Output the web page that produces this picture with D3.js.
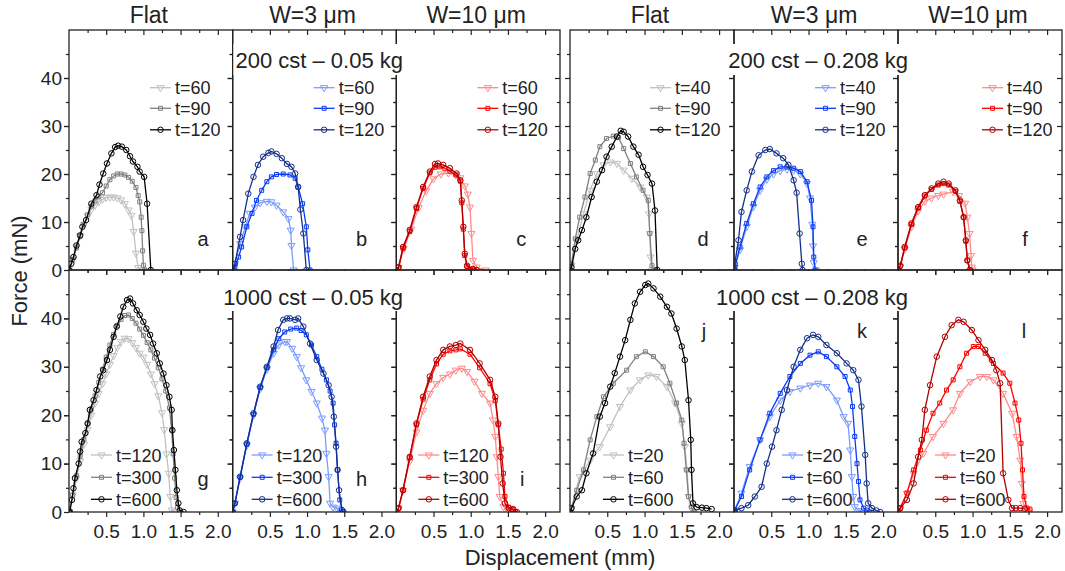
<!DOCTYPE html>
<html>
<head>
<meta charset="utf-8">
<script src="https://cdn.jsdelivr.net/npm/d3@7"></script>
<style>
  body { margin: 0; background: #fff; }
  svg { font-family: "Liberation Sans", Arial, sans-serif; }
</style>
</head>
<body>
<svg id="chart" width="1065" height="571"></svg>
<script>

// ---- data: [displacement mm, force mN] ----

// 200 cst - 0.05 kg
var a_t60  = [[0,0],[0.05,2.2],[0.1,4.8],[0.15,7.2],[0.2,9.5],[0.25,11.3],[0.3,12.6],[0.35,13.5],[0.4,14.2],[0.45,14.7],[0.5,15.1],[0.55,15.2],[0.6,15.2],[0.65,15],[0.7,14.6],[0.75,13.8],[0.8,12.5],[0.84,11.4],[0.87,8],[0.9,3.5],[0.93,0.5],[0.97,0.1],[1.0,0]];
var a_t90  = [[0,0],[0.05,2.1],[0.1,4.6],[0.15,7],[0.2,9.5],[0.25,11.5],[0.3,13.3],[0.35,14.5],[0.4,15.3],[0.45,16.1],[0.5,17.5],[0.55,18.8],[0.6,19.6],[0.65,20],[0.7,20],[0.75,19.8],[0.8,19.3],[0.85,18.5],[0.9,17.2],[0.93,15.5],[0.95,14.2],[0.97,11],[0.98,8.2],[0.99,4],[1.0,1],[1.02,0]];
var a_t120 = [[0,0],[0.03,1.3],[0.06,2.7],[0.1,5.1],[0.15,7.2],[0.18,9],[0.23,10.4],[0.3,13.8],[0.37,15.6],[0.41,17.8],[0.46,20.1],[0.51,22.2],[0.57,24.3],[0.62,25.6],[0.66,25.9],[0.71,25.7],[0.77,25],[0.82,23.7],[0.86,22.6],[0.92,21.5],[0.95,20.5],[1.01,19.4],[1.05,13.8],[1.1,0]];

var b_t60  = [[0,0],[0.03,1.3],[0.1,5.5],[0.17,9],[0.23,11.8],[0.3,13.1],[0.37,14],[0.46,14.3],[0.52,14.2],[0.59,13.5],[0.68,12.1],[0.75,10.7],[0.78,8.3],[0.79,5.1],[0.82,0]];
var b_t90  = [[0,0],[0.03,0.6],[0.08,2.7],[0.12,4.8],[0.19,9],[0.26,11.8],[0.32,14.5],[0.39,16.6],[0.46,18.4],[0.52,19.4],[0.59,19.9],[0.68,20],[0.77,19.8],[0.84,19.1],[0.88,17.3],[0.94,13.8],[0.99,9],[1.01,4.2],[1.04,0]];
var b_t120 = [[0,0],[0.03,1.3],[0.1,6.9],[0.14,10.4],[0.21,15.9],[0.28,19.4],[0.34,21.9],[0.41,23.6],[0.48,24.4],[0.52,24.7],[0.59,24.2],[0.66,23.3],[0.73,22.1],[0.79,21.5],[0.84,20.1],[0.88,17.3],[0.91,12.6],[0.95,7.6],[0.99,0]];

var c_t60  = [[0,0],[0.03,0.5],[0.1,4.5],[0.2,8.5],[0.3,13],[0.4,16.5],[0.5,19],[0.6,20],[0.7,20.2],[0.8,19.8],[0.86,19.2],[0.92,17.5],[0.96,15.8],[0.99,13.1],[1.01,7.6],[1.03,2],[1.08,0.6],[1.2,0]];
var c_t90  = [[0,0],[0.03,0.5],[0.09,4.5],[0.18,8],[0.27,12.8],[0.36,17],[0.45,20.2],[0.52,21.4],[0.58,21.5],[0.65,21.2],[0.72,20.6],[0.8,19.8],[0.86,18.5],[0.88,14],[0.9,8.5],[0.92,3],[0.95,0.7],[1.0,0.2],[1.05,0]];
var c_t120 = [[0,0],[0.03,0.6],[0.09,4.8],[0.18,8.3],[0.27,13.1],[0.36,17.3],[0.45,20.5],[0.52,22.1],[0.56,22.2],[0.63,21.9],[0.72,21.2],[0.81,20.1],[0.86,18.7],[0.88,14.5],[0.9,9],[0.92,3.4],[0.95,0.9],[1.03,0.2],[1.08,0]];

// 200 cst - 0.208 kg
var d_t40  = [[0,0],[0.02,1],[0.09,6.2],[0.18,11.7],[0.27,16.6],[0.36,20.1],[0.45,21.9],[0.54,22.5],[0.63,22.2],[0.72,20.8],[0.83,19.1],[0.94,17.3],[1.03,15.2],[1.06,11.7],[1.07,7.6],[1.08,2.7],[1.1,0]];
var d_t90  = [[0,0],[0.02,1.3],[0.07,6.5],[0.13,11],[0.2,15.2],[0.27,20.1],[0.34,22.9],[0.4,25.7],[0.49,27.4],[0.58,27.9],[0.65,27.6],[0.72,25.3],[0.81,22.2],[0.89,19.4],[0.98,16.6],[1.05,14.5],[1.07,7.6],[1.1,0.9],[1.14,0]];
var d_t120 = [[0,0],[0.02,0.6],[0.07,4.4],[0.11,6.2],[0.16,8.3],[0.22,11],[0.29,15.2],[0.36,18.4],[0.43,20.8],[0.49,23.6],[0.56,25.7],[0.63,27.8],[0.68,29],[0.72,28.8],[0.78,27.8],[0.85,25.7],[0.92,24],[0.98,21.5],[1.04,19.8],[1.1,18],[1.14,12.4],[1.17,0]];

var e_t40  = [[0,0],[0.01,0.5],[0.08,4.2],[0.17,9],[0.26,13.2],[0.35,16.6],[0.44,18.9],[0.53,20],[0.62,20.7],[0.71,21],[0.8,20.8],[0.89,20],[0.98,18],[1.02,15],[1.05,9.5],[1.06,5],[1.07,1.5],[1.1,0]];
var e_t90  = [[0,0],[0.01,0.6],[0.08,4.8],[0.17,9.7],[0.26,13.8],[0.35,17.3],[0.44,19.4],[0.53,20.7],[0.62,21.5],[0.71,21.5],[0.8,21.2],[0.89,20.5],[0.98,18.4],[1.04,14.5],[1.06,9],[1.07,2.7],[1.09,0]];
var e_t120 = [[0,0],[0.01,1.3],[0.06,6.2],[0.1,12.1],[0.17,16.6],[0.24,20.5],[0.33,23.9],[0.42,25],[0.48,25.2],[0.57,24.3],[0.66,23.3],[0.73,21.9],[0.8,18.7],[0.84,16.1],[0.88,7.6],[0.91,1.3],[0.92,0]];

var f_t40  = [[0,0],[0.03,0.7],[0.09,4.3],[0.18,9],[0.27,12.3],[0.36,14.3],[0.45,15],[0.54,15.5],[0.61,15.8],[0.74,16.3],[0.82,15.5],[0.9,13.9],[0.93,11],[0.96,7.6],[0.98,3],[0.99,0.6],[1.0,0]];
var f_t90  = [[0,0],[0.03,0.8],[0.09,4.6],[0.18,9.5],[0.27,12.9],[0.36,15.4],[0.45,16.8],[0.54,17.7],[0.61,18],[0.68,17.7],[0.77,16.4],[0.83,14.3],[0.88,11],[0.91,6],[0.93,2],[0.97,0]];
var f_t120 = [[0,0],[0.03,0.9],[0.09,4.8],[0.18,9.7],[0.27,13.1],[0.36,15.6],[0.45,17],[0.54,18],[0.61,18.4],[0.68,18],[0.77,16.6],[0.83,14.5],[0.88,11],[0.91,6.2],[0.93,2],[0.96,0]];

// 1000 cst - 0.05 kg
var g_t120 = [[0,0],[0.05,3.5],[0.1,7],[0.15,10.5],[0.2,14],[0.25,17],[0.3,20],[0.35,22.5],[0.4,24.5],[0.45,26.5],[0.5,28.5],[0.55,30.5],[0.6,32.3],[0.65,34],[0.7,35.2],[0.75,35.9],[0.8,35.8],[0.85,35],[0.9,34],[0.95,32.8],[1.0,32],[1.05,30.5],[1.1,28.5],[1.15,26.5],[1.2,24],[1.25,20.5],[1.28,17],[1.31,12],[1.34,8],[1.36,3.2],[1.38,0.4],[1.42,0]];
var g_t300 = [[0,0],[0.05,3.5],[0.1,7.5],[0.15,11.5],[0.2,15],[0.25,18.2],[0.3,21.3],[0.35,24],[0.4,26.8],[0.45,29.5],[0.5,32],[0.55,34.5],[0.6,36.7],[0.65,38.5],[0.7,39.8],[0.75,40.6],[0.8,40.7],[0.85,40],[0.9,39],[0.95,37.8],[1.0,36.5],[1.05,35],[1.1,33.5],[1.15,31.8],[1.2,29.8],[1.25,27.5],[1.3,25],[1.35,21.5],[1.38,17],[1.4,12],[1.42,7],[1.44,3],[1.46,1],[1.5,0]];
var g_t600 = [[0,0],[0.01,0.1],[0.04,2.5],[0.06,4.9],[0.08,7],[0.13,10],[0.15,12.5],[0.17,14.5],[0.22,16.3],[0.25,18.3],[0.28,21.1],[0.33,23.1],[0.37,25.2],[0.42,28],[0.46,29.3],[0.51,31.4],[0.55,33.5],[0.6,36.2],[0.64,38.3],[0.69,40.4],[0.73,42.4],[0.78,43.8],[0.82,44.1],[0.86,43.1],[0.91,41.7],[0.95,40.7],[1.0,39.3],[1.04,37.9],[1.09,36.6],[1.13,34.8],[1.18,32.8],[1.22,30.7],[1.27,28.6],[1.31,26.2],[1.35,23.8],[1.38,21.1],[1.39,16.9],[1.41,12.8],[1.43,8.7],[1.45,4.5],[1.47,1.8],[1.49,0.3],[1.54,0]];

var h_t120 = [[0,0],[0.03,1.8],[0.1,7],[0.19,13.8],[0.28,20],[0.37,25.5],[0.46,29.5],[0.55,32.8],[0.62,34.5],[0.7,35.2],[0.73,35.2],[0.8,33.8],[0.86,32.1],[0.92,29.8],[0.99,27.3],[1.06,24.9],[1.13,22.5],[1.2,19.4],[1.24,16.9],[1.26,12.1],[1.29,7.3],[1.31,1.8],[1.35,1],[1.4,0.8],[1.44,0.4],[1.47,0]];
var h_t300 = [[0,0],[0.03,1.8],[0.1,7.2],[0.19,14],[0.28,20.2],[0.37,25.7],[0.46,29.8],[0.55,33.5],[0.62,35.8],[0.7,37.2],[0.78,37.8],[0.86,38],[0.92,37.5],[0.99,36.6],[1.06,34.5],[1.13,32.1],[1.2,29.5],[1.26,27.3],[1.31,25],[1.35,22.5],[1.37,18],[1.39,14.2],[1.41,8.7],[1.44,2.5],[1.48,0]];
var h_t600 = [[0,0],[0.03,1.8],[0.1,7.3],[0.19,14.2],[0.28,20.4],[0.37,25.9],[0.46,30],[0.55,34.2],[0.61,37.6],[0.68,39.7],[0.73,40],[0.77,40],[0.84,39.7],[0.88,40],[0.95,38.3],[1.04,34.8],[1.13,31.4],[1.22,28.6],[1.29,26.2],[1.33,23.8],[1.36,19.7],[1.39,13.5],[1.41,8.7],[1.43,4.5],[1.47,0.4],[1.49,0]];

var i_t120 = [[0,0],[0.03,0.8],[0.09,4.5],[0.18,10.5],[0.27,16.5],[0.36,21],[0.45,24.5],[0.54,26.5],[0.63,27.8],[0.72,28.5],[0.8,29.3],[0.88,29.7],[0.95,29],[1.05,27],[1.15,24.5],[1.26,22.5],[1.3,19],[1.33,15.6],[1.35,11.4],[1.37,7.3],[1.39,3.2],[1.44,1.1],[1.5,0.3],[1.55,0]];
var i_t300 = [[0,0],[0.03,0.8],[0.09,4.5],[0.18,11.2],[0.27,18],[0.36,23.3],[0.45,27.3],[0.54,30.6],[0.63,32.6],[0.72,33.3],[0.8,33.5],[0.86,33.7],[0.99,32.6],[1.12,29.8],[1.26,26.5],[1.33,23],[1.37,18],[1.41,13],[1.44,8],[1.46,3.2],[1.51,1],[1.56,0.5],[1.6,0]];
var i_t600 = [[0,0],[0.03,0.8],[0.09,4.5],[0.18,11.4],[0.27,18.3],[0.36,23.8],[0.45,28],[0.54,31.4],[0.63,33.5],[0.72,34.2],[0.8,34.5],[0.86,34.8],[0.99,33.5],[1.12,30.7],[1.26,27.3],[1.33,23.8],[1.37,18.3],[1.4,11.4],[1.43,5.9],[1.46,1.8],[1.51,0.8],[1.57,0.6],[1.62,0]];

// 1000 cst - 0.208 kg
var j_t20  = [[0,0],[0.02,0.8],[0.13,7.3],[0.27,10.7],[0.4,13.5],[0.54,17.6],[0.67,21.8],[0.81,25.2],[0.94,27.3],[1.05,28.3],[1.16,28],[1.3,25.9],[1.41,22.5],[1.5,18.3],[1.54,13.5],[1.57,8.7],[1.59,3.2],[1.63,0.8],[1.66,0]];
var j_t60  = [[0,0],[0.02,0.8],[0.09,4.5],[0.18,8.7],[0.27,14.9],[0.36,19.7],[0.45,23.8],[0.58,26.6],[0.76,29.3],[0.89,32.1],[1.01,33.1],[1.12,32.1],[1.25,30],[1.34,26.6],[1.43,22.5],[1.5,19],[1.53,14.2],[1.56,8.7],[1.59,3.2],[1.63,1.1],[1.66,0]];
var j_t600 = [[0,0],[0.02,0.8],[0.09,3.2],[0.16,4.5],[0.22,8],[0.31,12.1],[0.4,19.7],[0.47,22.5],[0.54,25.9],[0.6,28.7],[0.67,32.1],[0.74,35.5],[0.81,39.7],[0.87,43.1],[0.94,45.5],[1.01,46.9],[1.05,47.2],[1.12,46.2],[1.21,44.5],[1.3,42.4],[1.36,41],[1.43,37.9],[1.5,34.2],[1.54,31.4],[1.59,23.1],[1.62,14.9],[1.63,8.7],[1.65,1.8],[1.7,1],[1.77,0.9],[1.83,0.8],[1.9,0.6]];

var k_t20  = [[0,0],[0.01,0.4],[0.1,3.9],[0.21,9.4],[0.35,14.9],[0.48,19.7],[0.62,23.1],[0.75,24.9],[0.89,25.6],[1.02,26.2],[1.13,26.6],[1.24,25.9],[1.38,23.1],[1.47,19.7],[1.53,18.3],[1.56,12.8],[1.58,7.3],[1.6,3.2],[1.62,1.1],[1.67,0.3],[1.72,0]];
var k_t60  = [[0,0],[0.01,0.4],[0.1,3.2],[0.21,8.7],[0.35,14.9],[0.48,20.4],[0.62,24.5],[0.75,28],[0.89,30.7],[1.02,32.4],[1.13,33.1],[1.24,32.1],[1.38,30],[1.49,28],[1.56,25.2],[1.59,21.8],[1.62,15.6],[1.65,10],[1.67,6.3],[1.69,2.5],[1.74,0.8],[1.78,0.4],[1.82,0]];
var k_t600 = [[0,0],[0.01,0.3],[0.1,0.8],[0.19,1.4],[0.28,3.2],[0.37,5.2],[0.44,10],[0.51,13.5],[0.57,16.9],[0.64,21.1],[0.71,25.2],[0.8,30],[0.89,33.5],[0.98,35.9],[1.06,36.6],[1.13,36.2],[1.24,34.5],[1.38,32.8],[1.51,30.7],[1.6,29.3],[1.67,27.3],[1.71,21.8],[1.76,11.8],[1.78,5.9],[1.8,1.8],[1.85,0.8],[1.91,0.3],[1.96,0]];

var l_t20  = [[0,0],[0.03,0.8],[0.12,3.9],[0.21,8],[0.34,12.1],[0.47,15.6],[0.61,18.3],[0.74,21.1],[0.83,24.5],[0.97,26.9],[1.1,28],[1.19,28],[1.28,27.3],[1.41,24.5],[1.53,20.4],[1.59,15.6],[1.64,10.7],[1.66,5.9],[1.68,1.8],[1.73,0.4],[1.76,0]];
var l_t60  = [[0,0],[0.03,0.8],[0.12,3.9],[0.21,8.7],[0.3,12.8],[0.38,16.9],[0.47,20.4],[0.56,22.5],[0.65,25.2],[0.74,27.3],[0.83,30],[0.92,32.8],[1.01,34.2],[1.08,34.2],[1.17,32.8],[1.28,30.7],[1.41,28.7],[1.5,26.6],[1.57,22.5],[1.62,19],[1.65,14.2],[1.67,8.7],[1.69,3.2],[1.73,0.8],[1.77,0.6]];
var l_t600 = [[0,0],[0.03,0.8],[0.12,2.5],[0.21,5.9],[0.27,11.4],[0.32,14.9],[0.36,21.1],[0.43,26.2],[0.52,32.1],[0.63,36.2],[0.72,38.6],[0.81,39.7],[0.88,39.3],[0.99,37.6],[1.08,35.5],[1.17,33.5],[1.26,31.4],[1.32,29.3],[1.37,26.6],[1.41,8],[1.48,2.5],[1.53,0.8],[1.58,0.8],[1.64,0.8],[1.7,0.7]];

// labels
var colTitles = ["Flat", "W=3 \u03bcm", "W=10 \u03bcm"];
var rowTitles = [["200 cst \u2013 0.05 kg", "200 cst \u2013 0.208 kg"],
                 ["1000 cst \u2013 0.05 kg", "1000 cst \u2013 0.208 kg"]];
var legTopL = ["t=60", "t=90", "t=120"];
var legTopR = ["t=40", "t=90", "t=120"];
var legBotL = ["t=120", "t=300", "t=600"];
var legBotR = ["t=20", "t=60", "t=600"];
var xMajor = [0.5, 1.0, 1.5, 2.0];
var yMajor = [0, 10, 20, 30, 40];

var grays = ["#c0c0c0", "#808080", "#000000"];
var blues = ["#7b9cff", "#0a3cf5", "#142f8c"];
var reds  = ["#ff8a8a", "#ff0000", "#b00000"];
var palettes = [grays, blues, reds];

// ---- layout ----
var blockX = [69, 570], blockW = [491, 492];
var rowY0 = [30, 270], rowY1 = [270, 512];
var legendRowsY = [[87.7, 108.3, 129.8], [455, 477.3, 499.3]];
var letterBase = [[246, 246], [486, 338]];

var panels = [
  {id:"a", b:0, c:0, r:0, data:[a_t60, a_t90, a_t120], leg:legTopL, legX:81, letX:134},
  {id:"b", b:0, c:1, r:0, data:[b_t60, b_t90, b_t120], leg:legTopL, legX:81, letX:129},
  {id:"c", b:0, c:2, r:0, data:[c_t60, c_t90, c_t120], leg:legTopL, legX:81, letX:125},
  {id:"d", b:1, c:0, r:0, data:[d_t40, d_t90, d_t120], leg:legTopR, legX:80, letX:133},
  {id:"e", b:1, c:1, r:0, data:[e_t40, e_t90, e_t120], leg:legTopR, legX:81, letX:128},
  {id:"f", b:1, c:2, r:0, data:[f_t40, f_t90, f_t120], leg:legTopR, legX:84, letX:127},
  {id:"g", b:0, c:0, r:1, data:[g_t120, g_t300, g_t600], leg:legBotL, legX:22, letX:134},
  {id:"h", b:0, c:1, r:1, data:[h_t120, h_t300, h_t600], leg:legBotL, legX:19, letX:129},
  {id:"i", b:0, c:2, r:1, data:[i_t120, i_t300, i_t600], leg:legBotL, legX:22, letX:126},
  {id:"j", b:1, c:0, r:1, data:[j_t20, j_t60, j_t600], leg:legBotR, legX:33, letX:134},
  {id:"k", b:1, c:1, r:1, data:[k_t20, k_t60, k_t600], leg:legBotR, legX:48, letX:128},
  {id:"l", b:1, c:2, r:1, data:[l_t20, l_t60, l_t600], leg:legBotR, legX:37, letX:126}
];

var svg = d3.select("#chart");
var ink = "#222";

var symbols = [
  d3.symbol().type(d3.symbolTriangle).size(22),
  d3.symbol().type(d3.symbolSquare).size(16),
  d3.symbol().type(d3.symbolCircle).size(24)
];
var rot = [180, 0, 0];

function tickStyle(s) {
  s.select(".domain").remove();
  s.selectAll("line").attr("stroke", ink).attr("stroke-width", 1.2);
}

panels.forEach(function(p) {
  var w = blockW[p.b] / 3;
  var x0 = blockX[p.b] + p.c * w;
  var x = d3.scaleLinear().domain([0, 2.2]).range([x0, x0 + w]);
  var y = d3.scaleLinear().domain([0, 50]).range([rowY1[p.r], rowY0[p.r]]);
  var pal = palettes[p.c];

  svg.append("clipPath").attr("id", "clip-" + p.id)
    .append("rect")
    .attr("x", x0).attr("y", rowY0[p.r])
    .attr("width", w).attr("height", rowY1[p.r] - rowY0[p.r]);

  var g = svg.append("g").attr("clip-path", "url(#clip-" + p.id + ")");
  var line = d3.line().x(function(d) { return x(d[0]); }).y(function(d) { return y(d[1]); });

  p.data.forEach(function(series, k) {
    g.append("path")
      .datum(series)
      .attr("d", line)
      .attr("fill", "none")
      .attr("stroke", pal[k])
      .attr("stroke-width", 1.3);

    g.selectAll(".m" + k)
      .data(series)
      .enter()
      .append("path")
      .attr("class", "m" + k)
      .attr("d", symbols[k]())
      .attr("transform", function(d) {
        return "translate(" + x(d[0]) + "," + y(d[1]) + ") rotate(" + rot[k] + ")";
      })
      .attr("fill", "none")
      .attr("stroke", pal[k])
      .attr("stroke-width", 1);
  });

  // frame
  svg.append("rect")
    .attr("x", x0).attr("y", rowY0[p.r])
    .attr("width", w).attr("height", rowY1[p.r] - rowY0[p.r])
    .attr("fill", "none").attr("stroke", ink).attr("stroke-width", 1.3);

  // x ticks on top and bottom edges, all pointing down
  [rowY0[p.r], rowY1[p.r]].forEach(function(yy) {
    svg.append("g").attr("transform", "translate(0," + yy + ")")
      .call(d3.axisBottom(x).tickValues(xMajor).tickSize(5).tickFormat(""))
      .call(tickStyle);
    svg.append("g").attr("transform", "translate(0," + yy + ")")
      .call(d3.axisBottom(x).tickValues([0.25, 0.75, 1.25, 1.75]).tickSize(3).tickFormat(""))
      .call(tickStyle);
  });

  // tick labels under the bottom row
  if (p.r === 1) {
    svg.append("g").attr("transform", "translate(0," + rowY1[p.r] + ")")
      .call(d3.axisBottom(x).tickValues(xMajor).tickSize(0).tickPadding(13).tickFormat(d3.format(".1f")))
      .call(function(s) {
        s.select(".domain").remove();
        s.selectAll("text").attr("fill", ink).style("font-size", "19px").style("font-family", "Liberation Sans, Arial, sans-serif");
      });
  }

  // y ticks on left and right edges, pointing left
  [x0, x0 + w].forEach(function(xx) {
    svg.append("g").attr("transform", "translate(" + xx + ",0)")
      .call(d3.axisLeft(y).tickValues([10, 20, 30, 40]).tickSize(5).tickFormat(""))
      .call(tickStyle);
    svg.append("g").attr("transform", "translate(" + xx + ",0)")
      .call(d3.axisLeft(y).tickValues([5, 15, 25, 35, 45]).tickSize(3).tickFormat(""))
      .call(tickStyle);
  });

  if (p.b === 0 && p.c === 0) {
    svg.append("g").attr("transform", "translate(" + x0 + ",0)")
      .call(d3.axisLeft(y).tickValues(yMajor).tickSize(5).tickPadding(2))
      .call(function(s) {
        tickStyle(s);
        s.selectAll("text").attr("fill", ink).style("font-size", "19px").style("font-family", "Liberation Sans, Arial, sans-serif");
      });
  }

  // legend
  var lg = svg.append("g");
  p.leg.forEach(function(label, k) {
    var ly = legendRowsY[p.r][k];
    lg.append("line")
      .attr("x1", x0 + p.legX).attr("x2", x0 + p.legX + 21)
      .attr("y1", ly).attr("y2", ly)
      .attr("stroke", pal[k]).attr("stroke-width", 1.3);
    lg.append("path")
      .attr("d", symbols[k]())
      .attr("transform", "translate(" + (x0 + p.legX + 10.5) + "," + ly + ") rotate(" + rot[k] + ")")
      .attr("fill", "none").attr("stroke", pal[k]).attr("stroke-width", 1);
    lg.append("text")
      .attr("x", x0 + p.legX + 25).attr("y", ly + 6.5)
      .attr("fill", ink).style("font-size", "18px")
      .text(label);
  });

  // panel letter
  svg.append("text")
    .attr("x", x0 + p.letX).attr("y", letterBase[p.r][p.b])
    .attr("text-anchor", "middle")
    .attr("fill", ink).style("font-size", "20px")
    .text(p.id);

  // column titles
  if (p.r === 0) {
    svg.append("text")
      .attr("x", x0 + w / 2 - 2).attr("y", 23)
      .attr("text-anchor", "middle")
      .attr("fill", ink).style("font-size", "23px")
      .text(colTitles[p.c]);
  }
});

// row titles with white backing
var titleRight = [403, 908];
var titleBase = [68, 305];
var titleBox = [[44, 75], [271, 311]];
[0, 1].forEach(function(r) {
  [0, 1].forEach(function(b) {
    var t = svg.append("text")
      .attr("x", titleRight[b]).attr("y", titleBase[r])
      .attr("text-anchor", "end")
      .attr("fill", ink).style("font-size", "22px")
      .text(rowTitles[r][b]);
    var bb = t.node().getBBox();
    svg.insert("rect", function() { return t.node(); })
      .attr("x", bb.x - 2).attr("y", titleBox[r][0])
      .attr("width", bb.width + 4).attr("height", titleBox[r][1] - titleBox[r][0])
      .attr("fill", "#fff");
  });
});

// axis titles
svg.append("text")
  .attr("transform", "translate(27,271) rotate(-90)")
  .attr("text-anchor", "middle")
  .attr("fill", ink).style("font-size", "22px")
  .text("Force (mN)");

svg.append("text")
  .attr("x", 560).attr("y", 565)
  .attr("text-anchor", "middle")
  .attr("fill", ink).style("font-size", "22px")
  .text("Displacement (mm)");

</script>
</body>
</html>
